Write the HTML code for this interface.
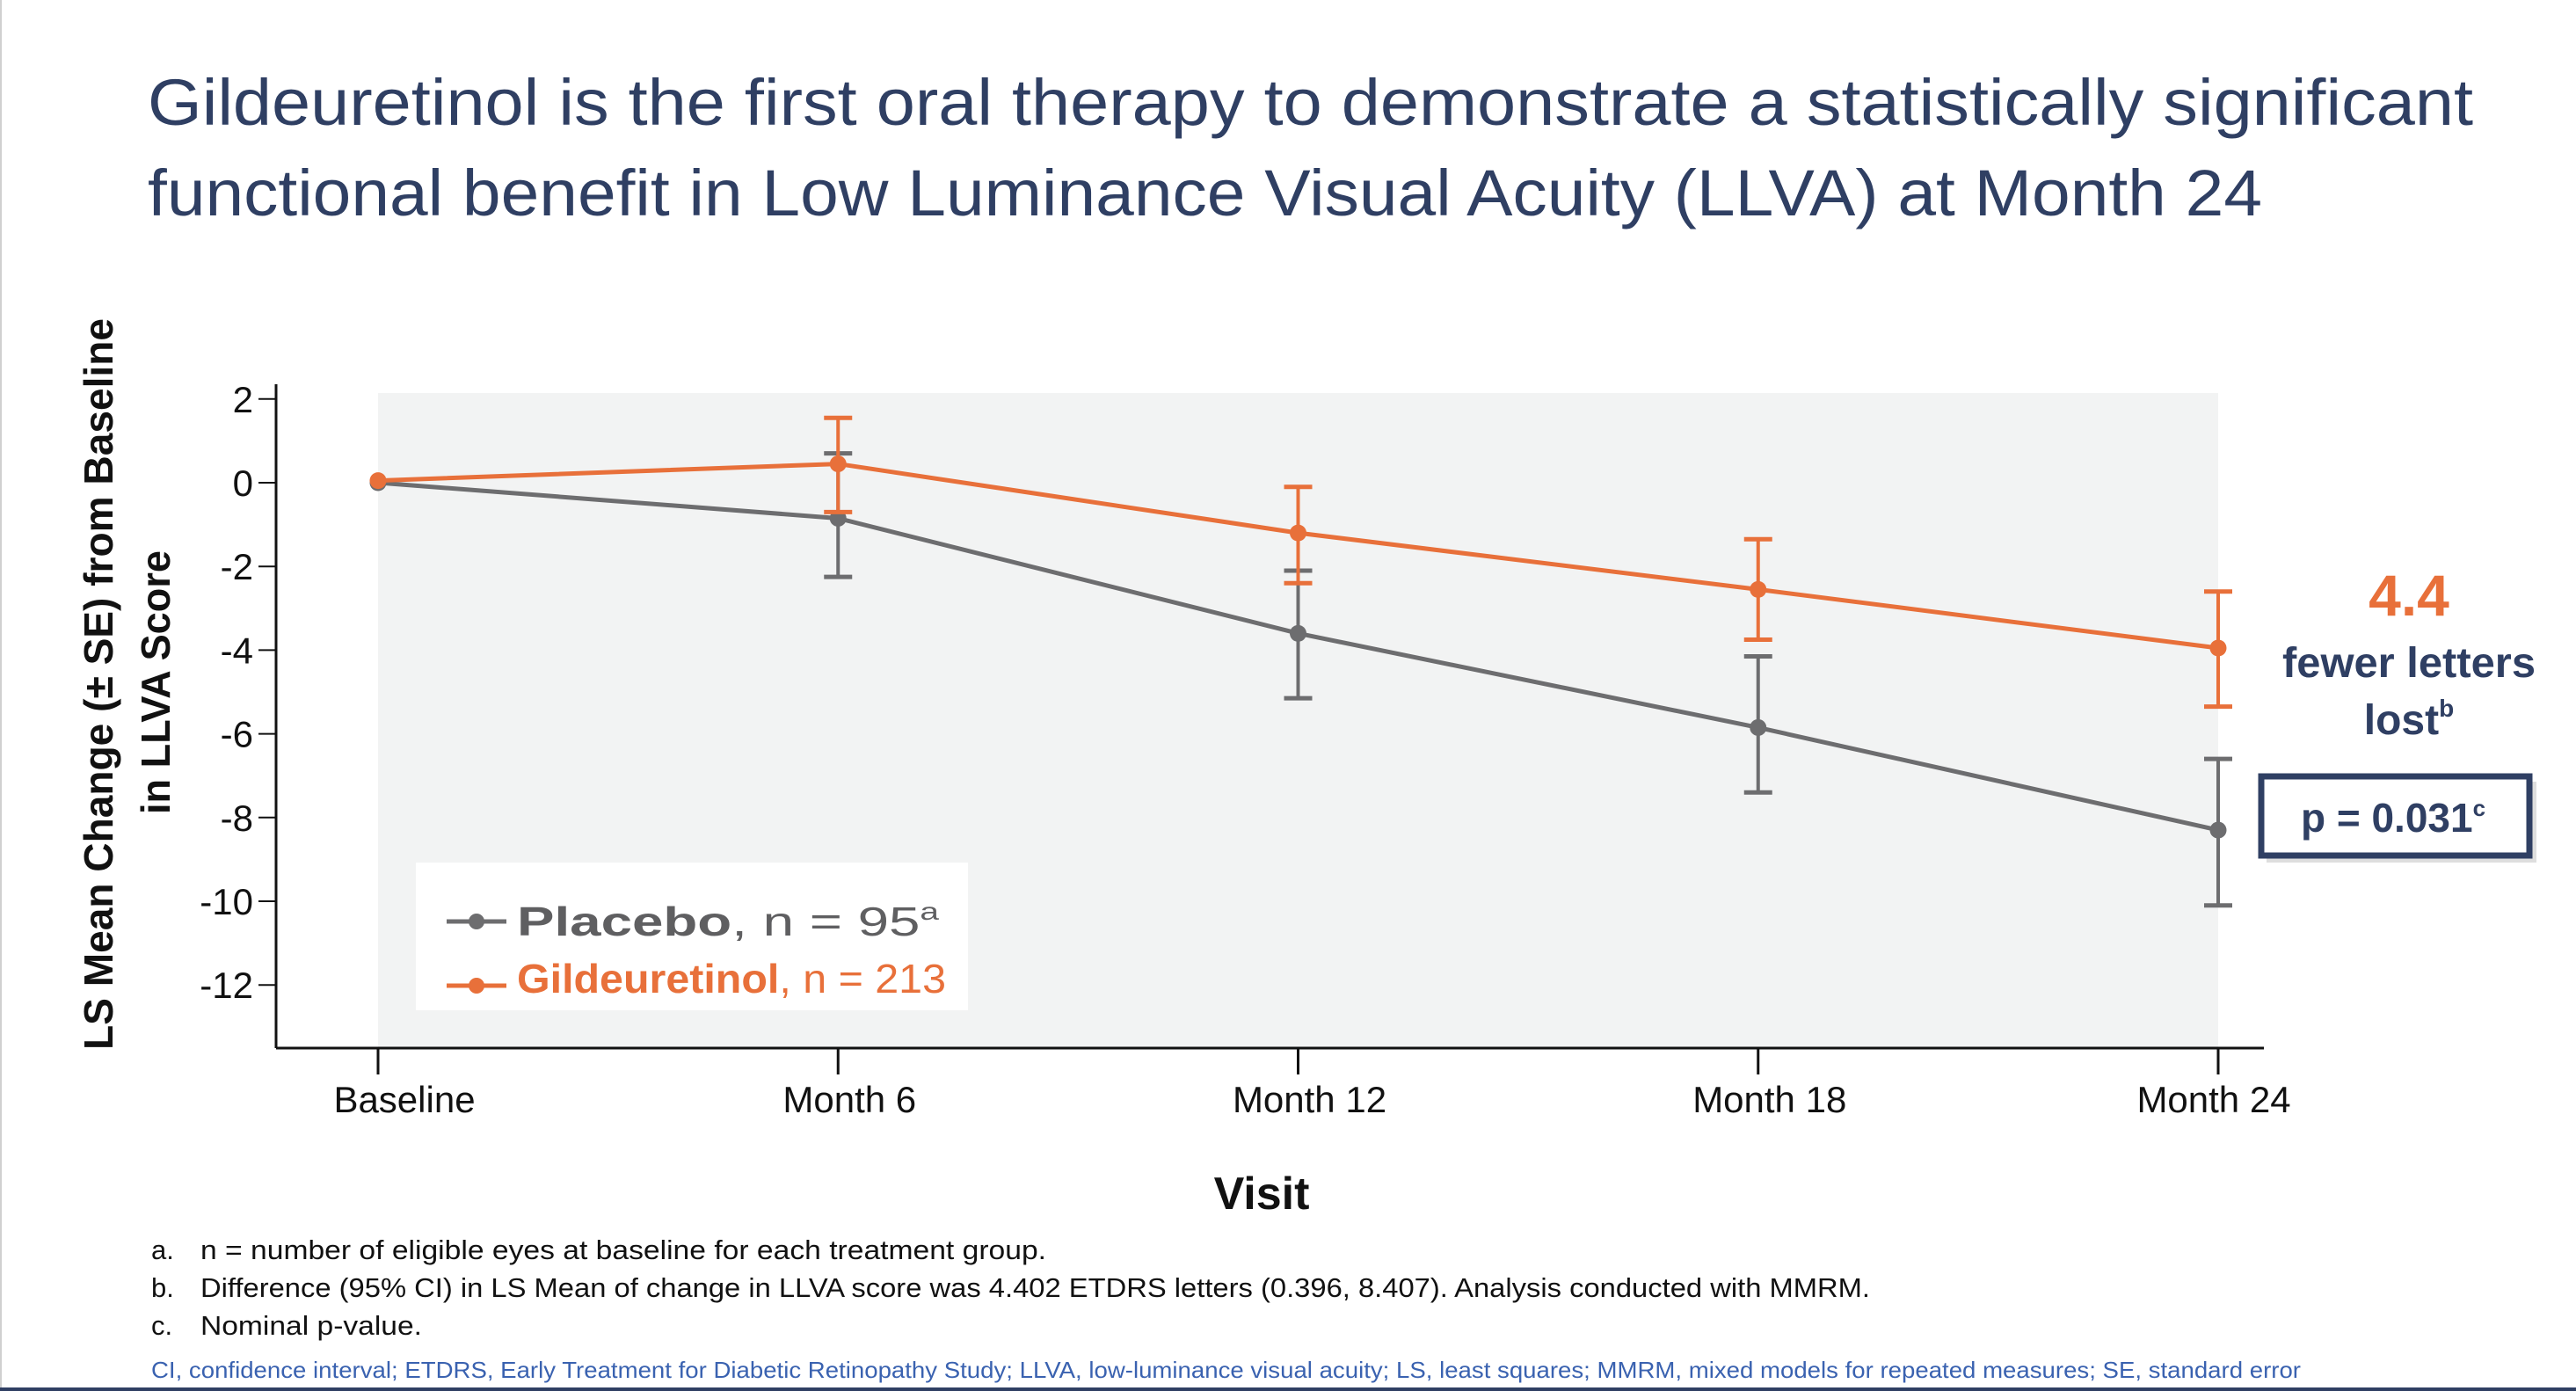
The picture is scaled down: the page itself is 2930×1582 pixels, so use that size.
<!DOCTYPE html>
<html><head><meta charset="utf-8"><style>
html,body{margin:0;padding:0;background:#fff;}
svg{display:block;font-family:"Liberation Sans",sans-serif;}
</style></head><body>
<svg id="chart" width="2930" height="1582" viewBox="0 0 2930 1582">
<rect x="0" y="0" width="2930" height="1582" fill="#fff"/>
<rect x="0" y="0" width="2" height="1582" fill="#d0d0d0"/>
<rect x="0" y="1578" width="2930" height="4" fill="#2f3f63"/>
<g fill="#2f3f63" font-size="74">
<text x="168" y="142" textLength="2645" lengthAdjust="spacingAndGlyphs">Gildeuretinol is the first oral therapy to demonstrate a statistically significant</text>
<text x="168" y="245" textLength="2405" lengthAdjust="spacingAndGlyphs">functional benefit in Low Luminance Visual Acuity (LLVA) at Month 24</text>
</g>
<rect x="430" y="447" width="2093" height="745" fill="#f2f3f3"/>
<g id="axes"></g>
<g id="series"></g>
<g font-weight="bold" font-size="46" fill="#111" text-anchor="middle">
<text transform="translate(128,778) rotate(-90)" textLength="832" lengthAdjust="spacingAndGlyphs">LS Mean Change (± SE) from Baseline</text>
<text transform="translate(193,776) rotate(-90)" textLength="300" lengthAdjust="spacingAndGlyphs">in LLVA Score</text>
</g>
<text x="1435" y="1375" font-size="52" font-weight="bold" text-anchor="middle" fill="#111">Visit</text>
<g>
<rect x="473" y="981" width="628" height="168" fill="#fff"/>
<g>
<line x1="508" y1="1048" x2="576" y2="1048" stroke="#6d6d6f" stroke-width="5"/>
<circle cx="542" cy="1048" r="9" fill="#6d6d6f"/>
<text x="588" y="1064" font-size="46" fill="#5f5f61" textLength="480" lengthAdjust="spacingAndGlyphs"><tspan font-weight="bold">Placebo</tspan>, n = 95<tspan font-size="28" dy="-18">a</tspan></text>
</g>
<g>
<line x1="508" y1="1121" x2="576" y2="1121" stroke="#e8703a" stroke-width="5"/>
<circle cx="542" cy="1121" r="9" fill="#e8703a"/>
<text x="588" y="1129" font-size="46" fill="#e8703a" textLength="488" lengthAdjust="spacingAndGlyphs"><tspan font-weight="bold">Gildeuretinol</tspan>, n = 213</text>
</g>
</g>
<g text-anchor="middle" font-weight="bold">
<text x="2740" y="700" font-size="66" fill="#e8703a">4.4</text>
<text x="2740" y="770" font-size="48" fill="#2f3f63" textLength="288" lengthAdjust="spacingAndGlyphs">fewer letters</text>
<text x="2740" y="835" font-size="48" fill="#2f3f63">lost<tspan font-size="28" dy="-20">b</tspan></text>
</g>
<g>
<rect x="2578" y="889" width="307" height="92" fill="#c8c8c8" opacity="0.6"/>
<rect x="2572" y="883" width="305" height="90" fill="#fff" stroke="#2f3f63" stroke-width="7"/>
<text x="2722" y="946" font-size="46" font-weight="bold" fill="#2f3f63" text-anchor="middle">p = 0.031<tspan font-size="26" dy="-18">c</tspan></text>
</g>
<g font-size="31" fill="#111">
<text x="172" y="1432">a.</text><text x="228" y="1432" textLength="962" lengthAdjust="spacingAndGlyphs">n = number of eligible eyes at baseline for each treatment group.</text>
<text x="172" y="1475">b.</text><text x="228" y="1475" textLength="1899" lengthAdjust="spacingAndGlyphs">Difference (95% CI) in LS Mean of change in LLVA score was 4.402 ETDRS letters (0.396, 8.407). Analysis conducted with MMRM.</text>
<text x="172" y="1518">c.</text><text x="228" y="1518" textLength="252" lengthAdjust="spacingAndGlyphs">Nominal p-value.</text>
</g>
<text x="172" y="1567" font-size="26" fill="#3a62b0" textLength="2445" lengthAdjust="spacingAndGlyphs">CI, confidence interval; ETDRS, Early Treatment for Diabetic Retinopathy Study; LLVA, low-luminance visual acuity; LS, least squares; MMRM, mixed models for repeated measures; SE, standard error</text>
</svg>
<script>
const categories = ["Baseline","Month 6","Month 12","Month 18","Month 24"];
const yTicks = [2,0,-2,-4,-6,-8,-10,-12];
const placeboMean = [0, -0.85, -3.6, -5.85, -8.3];
const placeboUpper = [0, 0.7, -2.1, -4.15, -6.6];
const placeboLower = [0, -2.25, -5.15, -7.4, -10.1];
const gildMean = [0.05, 0.45, -1.2, -2.55, -3.95];
const gildUpper = [0.05, 1.55, -0.1, -1.35, -2.6];
const gildLower = [0.05, -0.7, -2.4, -3.75, -5.35];

const NS = "http://www.w3.org/2000/svg";
const X0 = 430, X1 = 2523;
function xPos(i){ return X0 + (X1 - X0) * i / (categories.length - 1); }
function yPos(v){ return 549 - v * 47.6; }
function mk(tag, attrs, parent){
  const e = document.createElementNS(NS, tag);
  for (const k in attrs) e.setAttribute(k, attrs[k]);
  parent.appendChild(e); return e;
}
const axes = document.getElementById('axes');
const yAxis = mk('line', {x1:314, y1:437, x2:314, y2:1192, stroke:'#111', 'stroke-width':3}, axes);


const xAxis = mk('line', {x1:314, y1:1192, x2:2575, y2:1192, stroke:'#111', 'stroke-width':3}, axes);


yTicks.forEach(v => {
  const y = yPos(v);
  const t = mk('line', {x1:294, y1:y, x2:314, y2:y, stroke:'#111', 'stroke-width':2}, axes);
  
  
  const l = mk('text', {x:288, y:y+15, 'font-size':42, 'text-anchor':'end', fill:'#111'}, axes);
  l.textContent = String(v);
  
  
});
categories.forEach((c, i) => {
  const x = xPos(i);
  const t = mk('line', {x1:x, y1:1192, x2:x, y2:1222, stroke:'#111', 'stroke-width':3}, axes);
  
  
  const off = i === 0 ? 30 : (i === categories.length - 1 ? -5 : 13);
  const l = mk('text', {x:x+off, y:1265, 'font-size':42, 'text-anchor':'middle', fill:'#111'}, axes);
  l.textContent = c;
  
  
});
const series = document.getElementById('series');
function drawSeries(name, mean, up, lo, color){
  const g = mk('g', {}, series);
  
  
  mean.forEach((v, i) => {
    if (i === 0) return;
    const x = xPos(i);
    const eb = mk('g', {stroke:color, 'stroke-width':4}, g);
    
    
    mk('line', {x1:x, y1:yPos(up[i]), x2:x, y2:yPos(lo[i])}, eb);
    mk('line', {x1:x-16, y1:yPos(up[i]), x2:x+16, y2:yPos(up[i]), 'stroke-width':5}, eb);
    mk('line', {x1:x-16, y1:yPos(lo[i]), x2:x+16, y2:yPos(lo[i]), 'stroke-width':5}, eb);
  });
  const pts = mean.map((v, i) => xPos(i) + ',' + yPos(v)).join(' ');
  const pl = mk('polyline', {points:pts, fill:'none', stroke:color, 'stroke-width':5}, g);
  
  
  mean.forEach((v, i) => {
    const c = mk('circle', {cx:xPos(i), cy:yPos(v), r:9.5, fill:color}, g);
    
    
  });
}
drawSeries('placebo', placeboMean, placeboUpper, placeboLower, '#6d6d6f');
drawSeries('gildeuretinol', gildMean, gildUpper, gildLower, '#e8703a');
</script>
</body></html>
